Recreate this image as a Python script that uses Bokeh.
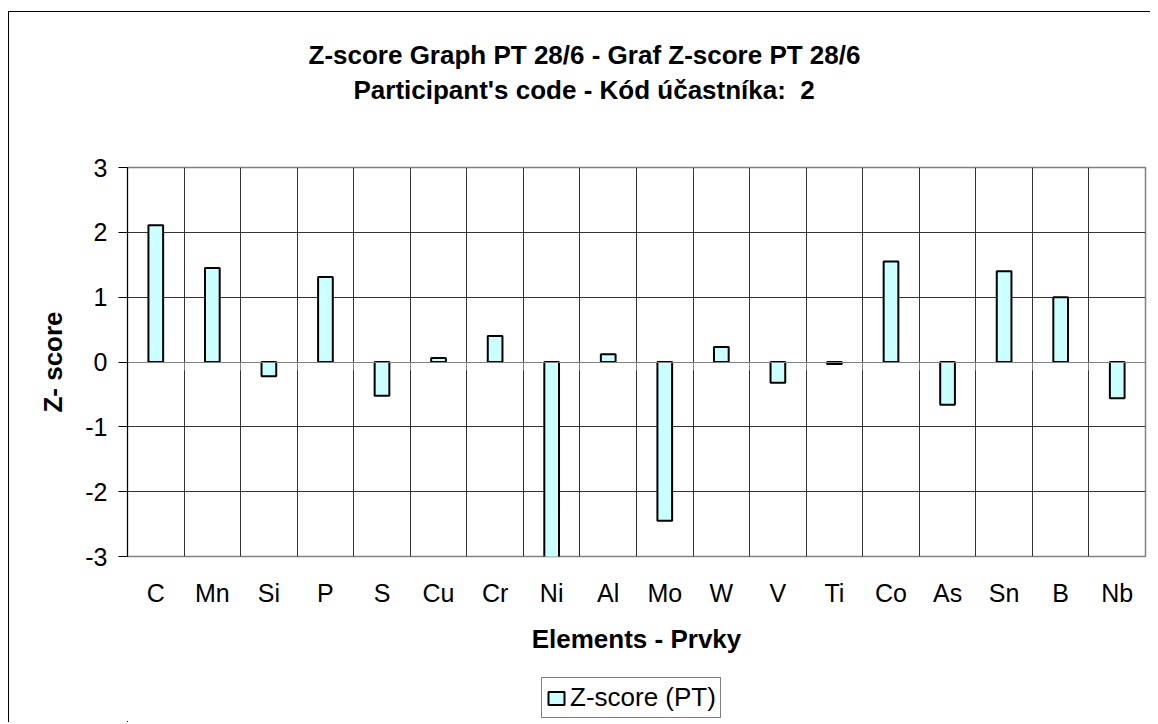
from bokeh.plotting import figure
from bokeh.layouts import column
from bokeh.models import (LinearAxis, FixedTicker, Range1d, Legend, LegendItem,
                          Title, ColumnDataSource)
from bokeh.embed import file_html
from bokeh.resources import INLINE

# ---- data ----
elements = ["C", "Mn", "Si", "P", "S", "Cu", "Cr", "Ni", "Al", "Mo",
            "W", "V", "Ti", "Co", "As", "Sn", "B", "Nb"]
zscores = [2.11, 1.45, -0.22, 1.31, -0.52, 0.06, 0.40, -3.10, 0.12, -2.45,
           0.23, -0.32, -0.03, 1.55, -0.66, 1.40, 1.00, -0.56]
y_ticks = [-3, -2, -1, 0, 1, 2, 3]
title_1 = "Z-score Graph PT 28/6 - Graf Z-score PT 28/6"
title_2 = "Participant's code - Kód účastníka:\u00a0 2"
x_label = "Elements - Prvky"
y_label = "Z- score"
series_name = "Z-score (PT)"

FONT = "Liberation Sans"
BAR_FILL = "#CCFFFF"
n = len(elements)
idx = list(range(n))
boundaries = [i - 0.5 for i in range(n + 1)]

src = ColumnDataSource(dict(x=idx, top=zscores, name=elements))

p = figure(width=1141, height=644, x_range=Range1d(-0.5, n - 0.5),
           y_range=Range1d(-3, 3), output_backend="svg", toolbar_location=None,
           min_border_left=118, min_border_right=5, min_border_top=155,
           min_border_bottom=100)
p.background_fill_color = "white"
p.border_fill_color = "white"
p.outline_line_color = "#808080"
p.outline_line_width = 1.5

# grids
p.xgrid.ticker = FixedTicker(ticks=boundaries[1:-1])
p.xgrid.grid_line_color = "#333333"
p.xgrid.grid_line_width = 1
p.ygrid.ticker = FixedTicker(ticks=y_ticks)
p.ygrid.grid_line_color = "#333333"
p.ygrid.grid_line_width = 1

# y axis
yax = p.yaxis[0]
yax.ticker = FixedTicker(ticks=y_ticks)
yax.major_label_overrides = {t: str(t) for t in y_ticks}
yax.major_tick_out = 9
yax.major_tick_in = 0
yax.minor_tick_line_color = None
yax.axis_line_color = "black"
yax.major_tick_line_color = "black"
yax.major_label_text_font = FONT
yax.major_label_text_font_size = "25px"
yax.major_label_text_color = "black"
yax.major_label_standoff = 11
yax.axis_label = y_label
yax.axis_label_text_font = FONT
yax.axis_label_text_font_size = "26px"
yax.axis_label_text_font_style = "bold"
yax.axis_label_text_color = "black"
yax.axis_label_standoff = 14

# x axis with category labels
xax = p.xaxis[0]
xax.ticker = FixedTicker(ticks=idx)
xax.major_label_overrides = {i: e for i, e in zip(idx, elements)}
xax.major_tick_line_color = None
xax.minor_tick_line_color = None
xax.axis_line_color = None
xax.major_label_text_font = FONT
xax.major_label_text_font_size = "25px"
xax.major_label_text_color = "black"
xax.major_label_standoff = 16
xax.axis_label = x_label
xax.axis_label_text_font = FONT
xax.axis_label_text_font_size = "26px"
xax.axis_label_text_font_style = "bold"
xax.axis_label_text_color = "black"
xax.axis_label_standoff = 14

# axis crossing at zero with boundary tick marks
zax = LinearAxis(fixed_location=0, ticker=FixedTicker(ticks=boundaries),
                 major_tick_out=8, major_tick_in=0,
                 major_tick_line_color="#808080", axis_line_color="#808080",
                 minor_tick_line_color=None, major_label_text_color=None,
                 major_label_text_font_size="1px")
p.add_layout(zax, "below")

p.vbar(x="x", top="top", bottom=0, width=0.26, source=src,
       fill_color=BAR_FILL, line_color="black", line_width=2)

# two-line title; a blank spacer title keeps the gap to the plot area
spacer = Title(text=" ", standoff=29, text_font=FONT, text_font_size="26px",
               text_color="white")
t2 = Title(text=title_2, align="left", offset=226, standoff=3,
           text_font=FONT, text_font_size="26px", text_font_style="bold",
           text_color="black")
t1 = Title(text=title_1, align="left", offset=181, standoff=3,
           text_font=FONT, text_font_size="26px", text_font_style="bold",
           text_color="black")
p.add_layout(spacer, "above")
p.add_layout(t2, "above")
p.add_layout(t1, "above")

# legend strip below the chart (its ranges keep the series out of view;
# the renderer only supplies the legend swatch)
p2 = figure(width=1141, height=66, x_range=Range1d(100, 101),
            y_range=Range1d(100, 101),
            output_backend="svg", toolbar_location=None,
            x_axis_location=None, y_axis_location=None,
            min_border_left=0, min_border_right=0, min_border_top=0,
            min_border_bottom=0)
p2.grid.visible = False
p2.outline_line_color = None
p2.background_fill_color = "white"
p2.border_fill_color = "white"
proxy = p2.vbar(x="x", top="top", bottom=0, width=0.26, source=src,
                fill_color=BAR_FILL, line_color="black", line_width=2)
legend = Legend(items=[LegendItem(label=series_name, renderers=[proxy])],
                location=(414, 4), orientation="vertical",
                border_line_color="black", border_line_width=1,
                background_fill_color="white", background_fill_alpha=1,
                label_text_font=FONT, label_text_font_size="26px",
                label_text_color="black", glyph_width=20, glyph_height=16,
                label_standoff=4, padding=4, spacing=0, margin=0)
p2.add_layout(legend)

layout = column(p, p2, spacing=0,
                styles={"border-left": "1px solid #000000",
                        "border-top": "1px solid #000000",
                        "margin-top": "11px", "margin-left": "8px"})

open("out.html", "w").write(file_html(layout, INLINE))
